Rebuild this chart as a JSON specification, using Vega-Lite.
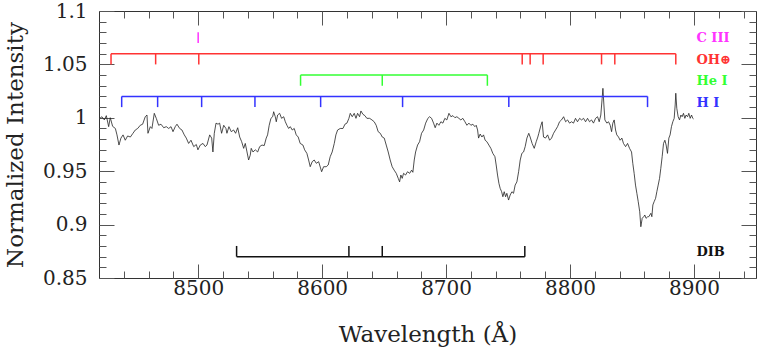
{
  "$schema": "https://vega.github.io/schema/vega-lite/v6.json",
  "width": 657,
  "height": 267,
  "autosize": "none",
  "padding": {"left": 99, "top": 11, "right": 8, "bottom": 69},
  "background": "white",
  "config": {
    "view": {"stroke": "#333", "strokeWidth": 1},
    "axis": {
      "domain": false, "grid": false, "tickColor": "#555", "tickWidth": 1,
      "labelFont": "DejaVu Serif", "labelFontSize": 20, "labelColor": "#222", "labelFlush": false, "labelOverlap": false,
      "titleFont": "DejaVu Serif", "titleFontSize": 23, "titleFontWeight": "normal", "titleColor": "#222"
    }
  },
  "datasets": {
    "spectrum": [
      {"wavelength": 8420.6, "intensity": 0.9995}, {"wavelength": 8422.4, "intensity": 1.001}, {"wavelength": 8424.3, "intensity": 0.998},
      {"wavelength": 8425.9, "intensity": 1.002}, {"wavelength": 8427.8, "intensity": 0.9917}, {"wavelength": 8429.1, "intensity": 1.0001},
      {"wavelength": 8431.0, "intensity": 0.992}, {"wavelength": 8433.2, "intensity": 0.990}, {"wavelength": 8434.5, "intensity": 0.984},
      {"wavelength": 8436.1, "intensity": 0.9745}, {"wavelength": 8437.7, "intensity": 0.981}, {"wavelength": 8439.4, "intensity": 0.984},
      {"wavelength": 8441.2, "intensity": 0.979}, {"wavelength": 8443.1, "intensity": 0.983}, {"wavelength": 8445.3, "intensity": 0.982},
      {"wavelength": 8447.4, "intensity": 0.9855}, {"wavelength": 8449.3, "intensity": 0.9886}, {"wavelength": 8451.2, "intensity": 0.990},
      {"wavelength": 8453.3, "intensity": 0.993}, {"wavelength": 8455.2, "intensity": 0.994}, {"wavelength": 8457.3, "intensity": 1.001},
      {"wavelength": 8458.7, "intensity": 1.0026}, {"wavelength": 8459.5, "intensity": 0.9855}, {"wavelength": 8461.4, "intensity": 0.9917},
      {"wavelength": 8462.7, "intensity": 0.990}, {"wavelength": 8464.6, "intensity": 1.0042}, {"wavelength": 8466.2, "intensity": 0.9995},
      {"wavelength": 8468.1, "intensity": 0.993}, {"wavelength": 8470.0, "intensity": 0.994}, {"wavelength": 8472.2, "intensity": 0.9907},
      {"wavelength": 8474.3, "intensity": 0.9917}, {"wavelength": 8476.2, "intensity": 0.990}, {"wavelength": 8478.1, "intensity": 0.9917},
      {"wavelength": 8479.7, "intensity": 0.987}, {"wavelength": 8481.5, "intensity": 0.9917}, {"wavelength": 8482.9, "intensity": 0.994},
      {"wavelength": 8485.1, "intensity": 0.990}, {"wavelength": 8486.9, "intensity": 0.9886}, {"wavelength": 8488.8, "intensity": 0.984},
      {"wavelength": 8490.4, "intensity": 0.981}, {"wavelength": 8492.3, "intensity": 0.976}, {"wavelength": 8494.2, "intensity": 0.979},
      {"wavelength": 8496.4, "intensity": 0.973}, {"wavelength": 8498.5, "intensity": 0.975}, {"wavelength": 8499.8, "intensity": 0.970},
      {"wavelength": 8501.7, "intensity": 0.9745}, {"wavelength": 8503.9, "intensity": 0.976}, {"wavelength": 8505.7, "intensity": 0.973},
      {"wavelength": 8507.1, "intensity": 0.9745}, {"wavelength": 8509.3, "intensity": 0.984}, {"wavelength": 8510.9, "intensity": 0.981},
      {"wavelength": 8511.9, "intensity": 0.968}, {"wavelength": 8513.0, "intensity": 0.9855}, {"wavelength": 8514.4, "intensity": 0.995},
      {"wavelength": 8516.0, "intensity": 0.994}, {"wavelength": 8517.3, "intensity": 0.995}, {"wavelength": 8518.9, "intensity": 0.9855},
      {"wavelength": 8520.6, "intensity": 0.993}, {"wavelength": 8522.4, "intensity": 0.990}, {"wavelength": 8523.2, "intensity": 0.9855},
      {"wavelength": 8524.8, "intensity": 0.9917}, {"wavelength": 8526.7, "intensity": 0.987}, {"wavelength": 8528.6, "intensity": 0.9886},
      {"wavelength": 8530.2, "intensity": 0.9855}, {"wavelength": 8531.9, "intensity": 0.9907}, {"wavelength": 8533.5, "intensity": 0.982},
      {"wavelength": 8535.1, "intensity": 0.9776}, {"wavelength": 8536.7, "intensity": 0.9714}, {"wavelength": 8538.0, "intensity": 0.976},
      {"wavelength": 8539.4, "intensity": 0.968}, {"wavelength": 8540.7, "intensity": 0.9605}, {"wavelength": 8542.0, "intensity": 0.965},
      {"wavelength": 8542.8, "intensity": 0.9714}, {"wavelength": 8544.2, "intensity": 0.968}, {"wavelength": 8546.1, "intensity": 0.970},
      {"wavelength": 8548.0, "intensity": 0.968}, {"wavelength": 8549.6, "intensity": 0.973}, {"wavelength": 8551.5, "intensity": 0.9745},
      {"wavelength": 8553.3, "intensity": 0.974}, {"wavelength": 8554.9, "intensity": 0.981}, {"wavelength": 8556.0, "intensity": 0.984},
      {"wavelength": 8557.3, "intensity": 0.993}, {"wavelength": 8558.7, "intensity": 0.9995}, {"wavelength": 8560.1, "intensity": 1.001},
      {"wavelength": 8560.9, "intensity": 1.0057}, {"wavelength": 8562.2, "intensity": 1.001}, {"wavelength": 8563.0, "intensity": 0.9963},
      {"wavelength": 8564.1, "intensity": 1.0026}, {"wavelength": 8565.7, "intensity": 1.0042}, {"wavelength": 8567.3, "intensity": 0.9995},
      {"wavelength": 8569.0, "intensity": 1.001}, {"wavelength": 8570.3, "intensity": 0.9963}, {"wavelength": 8571.6, "intensity": 0.993},
      {"wavelength": 8573.0, "intensity": 0.990}, {"wavelength": 8574.3, "intensity": 0.9917}, {"wavelength": 8575.9, "intensity": 0.9886},
      {"wavelength": 8577.5, "intensity": 0.990}, {"wavelength": 8579.1, "intensity": 0.984}, {"wavelength": 8580.7, "intensity": 0.982},
      {"wavelength": 8582.3, "intensity": 0.976}, {"wavelength": 8584.5, "intensity": 0.9745}, {"wavelength": 8585.9, "intensity": 0.970},
      {"wavelength": 8587.7, "intensity": 0.9667}, {"wavelength": 8589.1, "intensity": 0.9605}, {"wavelength": 8590.4, "intensity": 0.9542},
      {"wavelength": 8592.0, "intensity": 0.9589}, {"wavelength": 8593.6, "intensity": 0.9605}, {"wavelength": 8595.3, "intensity": 0.9574},
      {"wavelength": 8597.2, "intensity": 0.9589}, {"wavelength": 8598.0, "intensity": 0.9558}, {"wavelength": 8599.6, "intensity": 0.9495},
      {"wavelength": 8601.2, "intensity": 0.9542}, {"wavelength": 8603.3, "intensity": 0.9542}, {"wavelength": 8604.9, "intensity": 0.9558},
      {"wavelength": 8606.5, "intensity": 0.9636}, {"wavelength": 8608.1, "intensity": 0.968}, {"wavelength": 8609.8, "intensity": 0.976},
      {"wavelength": 8611.1, "intensity": 0.984}, {"wavelength": 8612.5, "intensity": 0.9886}, {"wavelength": 8614.6, "intensity": 0.990},
      {"wavelength": 8616.8, "intensity": 0.990}, {"wavelength": 8618.4, "intensity": 0.994}, {"wavelength": 8620.0, "intensity": 0.995},
      {"wavelength": 8621.6, "intensity": 0.9995}, {"wavelength": 8622.7, "intensity": 1.0042}, {"wavelength": 8624.3, "intensity": 1.001},
      {"wavelength": 8625.9, "intensity": 1.0042}, {"wavelength": 8627.3, "intensity": 0.9995}, {"wavelength": 8628.6, "intensity": 1.0042},
      {"wavelength": 8630.2, "intensity": 1.001}, {"wavelength": 8631.3, "intensity": 1.0064}, {"wavelength": 8632.9, "intensity": 1.0033},
      {"wavelength": 8634.5, "intensity": 1.002}, {"wavelength": 8636.1, "intensity": 0.9995}, {"wavelength": 8638.3, "intensity": 0.9995},
      {"wavelength": 8640.2, "intensity": 0.998}, {"wavelength": 8642.0, "intensity": 0.9963}, {"wavelength": 8643.6, "intensity": 0.993},
      {"wavelength": 8645.2, "intensity": 0.987}, {"wavelength": 8646.9, "intensity": 0.9855}, {"wavelength": 8648.5, "intensity": 0.982},
      {"wavelength": 8650.1, "intensity": 0.981}, {"wavelength": 8651.7, "intensity": 0.9745}, {"wavelength": 8653.3, "intensity": 0.968},
      {"wavelength": 8654.9, "intensity": 0.9605}, {"wavelength": 8656.5, "intensity": 0.9542}, {"wavelength": 8658.1, "intensity": 0.951},
      {"wavelength": 8659.8, "intensity": 0.948}, {"wavelength": 8661.4, "intensity": 0.9433}, {"wavelength": 8662.5, "intensity": 0.940},
      {"wavelength": 8663.5, "intensity": 0.9464}, {"wavelength": 8664.6, "intensity": 0.9433}, {"wavelength": 8665.7, "intensity": 0.948},
      {"wavelength": 8667.3, "intensity": 0.9464}, {"wavelength": 8668.9, "intensity": 0.9495}, {"wavelength": 8670.6, "intensity": 0.948},
      {"wavelength": 8672.2, "intensity": 0.951}, {"wavelength": 8673.2, "intensity": 0.949}, {"wavelength": 8674.3, "intensity": 0.9605},
      {"wavelength": 8675.4, "intensity": 0.968}, {"wavelength": 8677.0, "intensity": 0.9745}, {"wavelength": 8678.6, "intensity": 0.9776},
      {"wavelength": 8680.2, "intensity": 0.9855}, {"wavelength": 8681.9, "intensity": 0.9886}, {"wavelength": 8683.5, "intensity": 0.995},
      {"wavelength": 8685.3, "intensity": 0.9995}, {"wavelength": 8686.7, "intensity": 1.001}, {"wavelength": 8688.3, "intensity": 0.9995},
      {"wavelength": 8689.9, "intensity": 0.995}, {"wavelength": 8691.2, "intensity": 0.9907}, {"wavelength": 8692.6, "intensity": 0.995},
      {"wavelength": 8694.2, "intensity": 0.993}, {"wavelength": 8695.8, "intensity": 0.9963}, {"wavelength": 8697.4, "intensity": 0.995},
      {"wavelength": 8699.0, "intensity": 0.9995}, {"wavelength": 8700.6, "intensity": 0.998}, {"wavelength": 8702.3, "intensity": 1.0042},
      {"wavelength": 8703.9, "intensity": 1.001}, {"wavelength": 8705.5, "intensity": 1.002}, {"wavelength": 8707.1, "intensity": 1.0001},
      {"wavelength": 8708.7, "intensity": 1.001}, {"wavelength": 8710.3, "intensity": 0.9995}, {"wavelength": 8711.9, "intensity": 0.998},
      {"wavelength": 8713.5, "intensity": 0.9995}, {"wavelength": 8715.2, "intensity": 0.9963}, {"wavelength": 8716.8, "intensity": 0.993},
      {"wavelength": 8718.4, "intensity": 0.995}, {"wavelength": 8720.0, "intensity": 0.993}, {"wavelength": 8721.6, "intensity": 0.994},
      {"wavelength": 8723.2, "intensity": 0.9917}, {"wavelength": 8724.3, "intensity": 0.993}, {"wavelength": 8725.4, "intensity": 0.9886},
      {"wavelength": 8726.2, "intensity": 0.981}, {"wavelength": 8727.5, "intensity": 0.9848}, {"wavelength": 8728.9, "intensity": 0.982},
      {"wavelength": 8730.2, "intensity": 0.984}, {"wavelength": 8731.5, "intensity": 0.979}, {"wavelength": 8732.9, "intensity": 0.9776},
      {"wavelength": 8734.5, "intensity": 0.9745}, {"wavelength": 8736.1, "intensity": 0.9714}, {"wavelength": 8737.7, "intensity": 0.9667},
      {"wavelength": 8739.4, "intensity": 0.9636}, {"wavelength": 8740.4, "intensity": 0.9558}, {"wavelength": 8741.5, "intensity": 0.9464},
      {"wavelength": 8742.6, "intensity": 0.9387}, {"wavelength": 8743.6, "intensity": 0.934}, {"wavelength": 8744.8, "intensity": 0.9308},
      {"wavelength": 8745.8, "intensity": 0.9261}, {"wavelength": 8746.9, "intensity": 0.9308}, {"wavelength": 8748.0, "intensity": 0.9261},
      {"wavelength": 8749.0, "intensity": 0.9293}, {"wavelength": 8750.4, "intensity": 0.923}, {"wavelength": 8751.7, "intensity": 0.9277},
      {"wavelength": 8753.1, "intensity": 0.9308}, {"wavelength": 8754.4, "intensity": 0.9293}, {"wavelength": 8755.7, "intensity": 0.937},
      {"wavelength": 8757.1, "intensity": 0.940}, {"wavelength": 8758.5, "intensity": 0.9495}, {"wavelength": 8759.8, "intensity": 0.9605},
      {"wavelength": 8761.1, "intensity": 0.9667}, {"wavelength": 8762.5, "intensity": 0.968}, {"wavelength": 8763.8, "intensity": 0.973},
      {"wavelength": 8765.2, "intensity": 0.981}, {"wavelength": 8766.7, "intensity": 0.9855}, {"wavelength": 8767.8, "intensity": 0.982},
      {"wavelength": 8769.4, "intensity": 0.976}, {"wavelength": 8771.1, "intensity": 0.9714}, {"wavelength": 8772.7, "intensity": 0.9776},
      {"wavelength": 8774.0, "intensity": 0.982}, {"wavelength": 8774.8, "intensity": 0.9855}, {"wavelength": 8776.5, "intensity": 0.993},
      {"wavelength": 8777.5, "intensity": 0.9963}, {"wavelength": 8778.6, "intensity": 0.982}, {"wavelength": 8780.2, "intensity": 0.981},
      {"wavelength": 8781.9, "intensity": 0.984}, {"wavelength": 8783.5, "intensity": 0.979}, {"wavelength": 8785.1, "intensity": 0.981},
      {"wavelength": 8786.7, "intensity": 0.9855}, {"wavelength": 8788.3, "intensity": 0.9886}, {"wavelength": 8789.9, "intensity": 0.9917},
      {"wavelength": 8791.5, "intensity": 0.9963}, {"wavelength": 8793.1, "intensity": 0.998}, {"wavelength": 8794.8, "intensity": 1.001},
      {"wavelength": 8796.4, "intensity": 0.9963}, {"wavelength": 8798.0, "intensity": 0.998}, {"wavelength": 8799.6, "intensity": 0.995},
      {"wavelength": 8801.2, "intensity": 0.9963}, {"wavelength": 8802.8, "intensity": 0.995}, {"wavelength": 8804.4, "intensity": 0.9995},
      {"wavelength": 8806.0, "intensity": 0.9963}, {"wavelength": 8807.7, "intensity": 0.9995}, {"wavelength": 8809.3, "intensity": 0.998},
      {"wavelength": 8810.9, "intensity": 0.9995}, {"wavelength": 8812.5, "intensity": 0.9963}, {"wavelength": 8814.1, "intensity": 0.9995},
      {"wavelength": 8815.7, "intensity": 0.9963}, {"wavelength": 8817.3, "intensity": 0.998}, {"wavelength": 8818.9, "intensity": 0.995},
      {"wavelength": 8820.6, "intensity": 0.9995}, {"wavelength": 8822.2, "intensity": 1.001}, {"wavelength": 8823.5, "intensity": 0.9963},
      {"wavelength": 8824.8, "intensity": 1.0026}, {"wavelength": 8825.9, "intensity": 1.0183}, {"wavelength": 8826.5, "intensity": 1.0276},
      {"wavelength": 8827.3, "intensity": 1.012}, {"wavelength": 8828.1, "intensity": 0.998}, {"wavelength": 8829.7, "intensity": 0.995},
      {"wavelength": 8831.0, "intensity": 0.9963}, {"wavelength": 8832.4, "intensity": 0.993}, {"wavelength": 8833.5, "intensity": 0.987},
      {"wavelength": 8834.5, "intensity": 0.995}, {"wavelength": 8835.6, "intensity": 0.998}, {"wavelength": 8836.7, "intensity": 0.9886},
      {"wavelength": 8837.7, "intensity": 0.984}, {"wavelength": 8839.1, "intensity": 0.982}, {"wavelength": 8840.4, "intensity": 0.979},
      {"wavelength": 8841.8, "intensity": 0.981}, {"wavelength": 8843.1, "intensity": 0.976}, {"wavelength": 8844.8, "intensity": 0.973},
      {"wavelength": 8846.4, "intensity": 0.976}, {"wavelength": 8848.0, "intensity": 0.9714}, {"wavelength": 8849.6, "intensity": 0.968},
      {"wavelength": 8850.6, "intensity": 0.9574}, {"wavelength": 8851.7, "intensity": 0.948}, {"wavelength": 8852.8, "intensity": 0.937},
      {"wavelength": 8853.9, "intensity": 0.9293}, {"wavelength": 8855.0, "intensity": 0.9214}, {"wavelength": 8856.2, "intensity": 0.912},
      {"wavelength": 8857.1, "intensity": 0.898}, {"wavelength": 8858.2, "intensity": 0.9059}, {"wavelength": 8859.4, "intensity": 0.9074},
      {"wavelength": 8860.3, "intensity": 0.909}, {"wavelength": 8861.3, "intensity": 0.9059}, {"wavelength": 8862.7, "intensity": 0.9074},
      {"wavelength": 8863.5, "intensity": 0.9074}, {"wavelength": 8865.2, "intensity": 0.9106}, {"wavelength": 8866.0, "intensity": 0.9074},
      {"wavelength": 8866.8, "intensity": 0.9184}, {"wavelength": 8867.8, "intensity": 0.9214}, {"wavelength": 8869.0, "intensity": 0.9246},
      {"wavelength": 8870.0, "intensity": 0.9308}, {"wavelength": 8871.1, "intensity": 0.937}, {"wavelength": 8872.2, "intensity": 0.9433},
      {"wavelength": 8873.2, "intensity": 0.9527}, {"wavelength": 8874.3, "intensity": 0.9636}, {"wavelength": 8875.4, "intensity": 0.976},
      {"wavelength": 8876.5, "intensity": 0.979}, {"wavelength": 8877.5, "intensity": 0.9745}, {"wavelength": 8878.6, "intensity": 0.9667},
      {"wavelength": 8879.7, "intensity": 0.981}, {"wavelength": 8880.7, "intensity": 0.984}, {"wavelength": 8881.8, "intensity": 0.9917},
      {"wavelength": 8882.9, "intensity": 0.9963}, {"wavelength": 8884.0, "intensity": 0.9995}, {"wavelength": 8884.8, "intensity": 1.012},
      {"wavelength": 8885.3, "intensity": 1.023}, {"wavelength": 8886.1, "intensity": 1.0089}, {"wavelength": 8887.2, "intensity": 1.001},
      {"wavelength": 8888.3, "intensity": 0.998}, {"wavelength": 8889.4, "intensity": 1.0026}, {"wavelength": 8890.4, "intensity": 1.001},
      {"wavelength": 8891.5, "intensity": 1.0042}, {"wavelength": 8892.6, "intensity": 0.9995}, {"wavelength": 8893.6, "intensity": 1.0026},
      {"wavelength": 8894.8, "intensity": 1.001}, {"wavelength": 8895.8, "intensity": 1.0042}, {"wavelength": 8896.9, "intensity": 0.9995},
      {"wavelength": 8898.0, "intensity": 1.0026}, {"wavelength": 8899.0, "intensity": 0.9995}, {"wavelength": 8899.6, "intensity": 0.999}
    ],
    "segments": [
      {"species": "C III", "kind": "tick", "x": 8500, "x2": 8500, "y": 1.07, "y2": 1.08},
      {"species": "OH⊕", "kind": "bar", "x": 8429.7, "x2": 8885.3, "y": 1.06, "y2": 1.06},
      {"species": "OH⊕", "kind": "tick", "x": 8429.7, "x2": 8429.7, "y": 1.05, "y2": 1.06},
      {"species": "OH⊕", "kind": "tick", "x": 8465.7, "x2": 8465.7, "y": 1.05, "y2": 1.06},
      {"species": "OH⊕", "kind": "tick", "x": 8500.5, "x2": 8500.5, "y": 1.05, "y2": 1.06},
      {"species": "OH⊕", "kind": "tick", "x": 8761.4, "x2": 8761.4, "y": 1.05, "y2": 1.06},
      {"species": "OH⊕", "kind": "tick", "x": 8767.8, "x2": 8767.8, "y": 1.05, "y2": 1.06},
      {"species": "OH⊕", "kind": "tick", "x": 8778.3, "x2": 8778.3, "y": 1.05, "y2": 1.06},
      {"species": "OH⊕", "kind": "tick", "x": 8825.4, "x2": 8825.4, "y": 1.05, "y2": 1.06},
      {"species": "OH⊕", "kind": "tick", "x": 8836.1, "x2": 8836.1, "y": 1.05, "y2": 1.06},
      {"species": "OH⊕", "kind": "tick", "x": 8885.3, "x2": 8885.3, "y": 1.05, "y2": 1.06},
      {"species": "He I", "kind": "bar", "x": 8582.6, "x2": 8733.3, "y": 1.04, "y2": 1.04},
      {"species": "He I", "kind": "tick", "x": 8582.6, "x2": 8582.6, "y": 1.03, "y2": 1.04},
      {"species": "He I", "kind": "tick", "x": 8648.5, "x2": 8648.5, "y": 1.03, "y2": 1.04},
      {"species": "He I", "kind": "tick", "x": 8733.3, "x2": 8733.3, "y": 1.03, "y2": 1.04},
      {"species": "H I", "kind": "bar", "x": 8438.3, "x2": 8862.5, "y": 1.02, "y2": 1.02},
      {"species": "H I", "kind": "tick", "x": 8438.3, "x2": 8438.3, "y": 1.01, "y2": 1.02},
      {"species": "H I", "kind": "tick", "x": 8467.3, "x2": 8467.3, "y": 1.01, "y2": 1.02},
      {"species": "H I", "kind": "tick", "x": 8502.8, "x2": 8502.8, "y": 1.01, "y2": 1.02},
      {"species": "H I", "kind": "tick", "x": 8545.8, "x2": 8545.8, "y": 1.01, "y2": 1.02},
      {"species": "H I", "kind": "tick", "x": 8598.8, "x2": 8598.8, "y": 1.01, "y2": 1.02},
      {"species": "H I", "kind": "tick", "x": 8664.9, "x2": 8664.9, "y": 1.01, "y2": 1.02},
      {"species": "H I", "kind": "tick", "x": 8750.6, "x2": 8750.6, "y": 1.01, "y2": 1.02},
      {"species": "H I", "kind": "tick", "x": 8862.5, "x2": 8862.5, "y": 1.01, "y2": 1.02},
      {"species": "DIB", "kind": "bar", "x": 8531.0, "x2": 8763.5, "y": 0.87, "y2": 0.87},
      {"species": "DIB", "kind": "tick", "x": 8531.0, "x2": 8531.0, "y": 0.87, "y2": 0.88},
      {"species": "DIB", "kind": "tick", "x": 8621.6, "x2": 8621.6, "y": 0.87, "y2": 0.88},
      {"species": "DIB", "kind": "tick", "x": 8648.5, "x2": 8648.5, "y": 0.87, "y2": 0.88},
      {"species": "DIB", "kind": "tick", "x": 8763.5, "x2": 8763.5, "y": 0.87, "y2": 0.88}
    ],
    "labels": [
      {"species": "C III", "text": "C III", "x": 8902, "y": 1.0747},
      {"species": "OH⊕", "text": "OH⊕", "x": 8902, "y": 1.0541},
      {"species": "He I", "text": "He I", "x": 8902, "y": 1.0345},
      {"species": "H I", "text": "H I", "x": 8902, "y": 1.0139},
      {"species": "DIB", "text": "DIB", "x": 8902, "y": 0.8743}
    ]
  },
  "resolve": {"axis": {"x": "independent", "y": "independent"}},
  "layer": [
    {
      "data": {"name": "spectrum"},
      "mark": {"type": "line", "color": "#222", "strokeWidth": 0.8},
      "encoding": {
        "x": {"field": "wavelength", "type": "quantitative", "scale": {"domain": [8420, 8950], "nice": false, "zero": false},
          "axis": {"orient": "bottom", "values": [8500, 8600, 8700, 8800, 8900], "tickSize": -14, "labelPadding": 14, "format": "d", "title": "Wavelength (Å)", "titlePadding": 25}},
        "y": {"field": "intensity", "type": "quantitative", "scale": {"domain": [0.85, 1.1], "nice": false, "zero": false},
          "axis": {"orient": "left", "values": [0.85, 0.9, 0.95, 1, 1.05, 1.1], "tickSize": -15, "labelPadding": 27, "format": "~g", "title": "Normalized Intensity", "titlePadding": 15}}
      }
    },
    {
      "data": {"name": "segments"},
      "transform": [{"filter": "datum.kind === 'bar'"}],
      "mark": {"type": "rule", "strokeWidth": 1.5},
      "encoding": {
        "x": {"field": "x", "type": "quantitative", "scale": {"domain": [8420, 8950], "nice": false, "zero": false},
          "axis": {"orient": "bottom", "values": [8440, 8460, 8480, 8520, 8540, 8560, 8580, 8620, 8640, 8660, 8680, 8720, 8740, 8760, 8780, 8820, 8840, 8860, 8880, 8920, 8940], "tickSize": -7, "labels": false, "title": null}},
        "x2": {"field": "x2"},
        "y": {"field": "y", "type": "quantitative", "scale": {"domain": [0.85, 1.1], "nice": false, "zero": false},
          "axis": {"orient": "left", "values": [0.86, 0.87, 0.88, 0.89, 0.91, 0.92, 0.93, 0.94, 0.96, 0.97, 0.98, 0.99, 1.01, 1.02, 1.03, 1.04, 1.06, 1.07, 1.08, 1.09], "tickSize": -7, "labels": false, "title": null}},
        "y2": {"field": "y2"},
        "color": {"field": "species", "type": "nominal", "scale": {"domain": ["C III", "OH⊕", "He I", "H I", "DIB"], "range": ["#ff33ff", "#ff3333", "#33ff33", "#3333ff", "#111111"]}, "legend": null}
      }
    },
    {
      "data": {"name": "segments"},
      "transform": [{"filter": "datum.kind === 'tick'"}],
      "mark": {"type": "rule", "strokeWidth": 1.5},
      "encoding": {
        "x": {"field": "x", "type": "quantitative", "scale": {"domain": [8420, 8950], "nice": false, "zero": false},
          "axis": {"orient": "top", "values": [8500, 8600, 8700, 8800, 8900], "tickSize": -14, "labels": false, "title": null}},
        "x2": {"field": "x2"},
        "y": {"field": "y", "type": "quantitative", "scale": {"domain": [0.85, 1.1], "nice": false, "zero": false},
          "axis": {"orient": "right", "values": [0.85, 0.9, 0.95, 1, 1.05, 1.1], "tickSize": -15, "labels": false, "title": null}},
        "y2": {"field": "y2"},
        "color": {"field": "species", "type": "nominal", "legend": null}
      }
    },
    {
      "data": {"name": "labels"},
      "mark": {"type": "text", "align": "left", "baseline": "middle", "font": "DejaVu Serif", "fontWeight": "bold", "fontSize": 13},
      "encoding": {
        "x": {"field": "x", "type": "quantitative", "scale": {"domain": [8420, 8950], "nice": false, "zero": false},
          "axis": {"orient": "top", "values": [8440, 8460, 8480, 8520, 8540, 8560, 8580, 8620, 8640, 8660, 8680, 8720, 8740, 8760, 8780, 8820, 8840, 8860, 8880, 8920, 8940], "tickSize": -7, "labels": false, "title": null}},
        "y": {"field": "y", "type": "quantitative", "scale": {"domain": [0.85, 1.1], "nice": false, "zero": false},
          "axis": {"orient": "right", "values": [0.86, 0.87, 0.88, 0.89, 0.91, 0.92, 0.93, 0.94, 0.96, 0.97, 0.98, 0.99, 1.01, 1.02, 1.03, 1.04, 1.06, 1.07, 1.08, 1.09], "tickSize": -7, "labels": false, "title": null}},
        "text": {"field": "text"},
        "color": {"field": "species", "type": "nominal", "legend": null}
      }
    }
  ]
}
